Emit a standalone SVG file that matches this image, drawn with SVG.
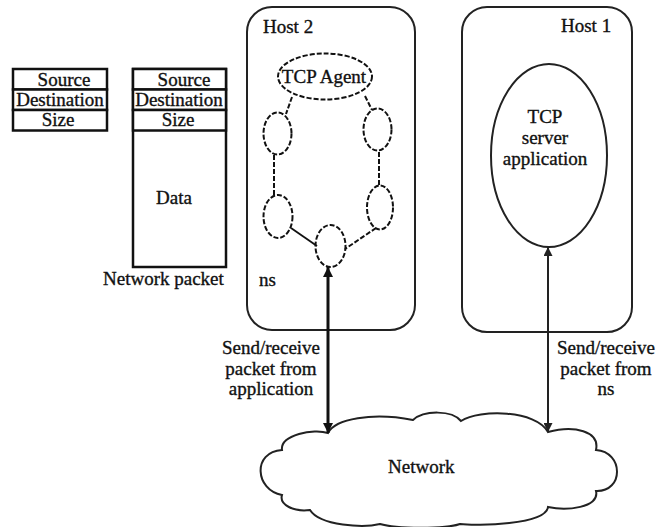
<svg xmlns="http://www.w3.org/2000/svg" width="657" height="527" viewBox="0 0 657 527">
<defs>
<style>
text{font-family:"Liberation Serif","Times New Roman",serif;font-size:19px;fill:#111;stroke:#111;stroke-width:0.35}
.mid{text-anchor:middle}
.box{fill:#fff;stroke:#111;stroke-width:2.5}
.host{fill:none;stroke:#222;stroke-width:2}
.dash{fill:none;stroke:#111;stroke-width:2;stroke-dasharray:5 2}
.link{fill:none;stroke:#111;stroke-width:2;stroke-dasharray:5 2}
</style>
<marker id="ah" viewBox="0 0 10 10" refX="10" refY="5" markerWidth="10" markerHeight="10" markerUnits="userSpaceOnUse" orient="auto-start-reverse">
<path d="M0,0 L10,5 L0,10 Z" fill="#111"/>
</marker>
<marker id="ah2" viewBox="0 0 10 10" refX="10" refY="5" markerWidth="9" markerHeight="9" markerUnits="userSpaceOnUse" orient="auto-start-reverse">
<path d="M0,0 L10,5 L0,10 Z" fill="#222"/>
</marker>
</defs>
<rect width="657" height="527" fill="#fff"/>

<g id="header-table">
<rect class="box" x="13" y="69" width="94" height="20.5"/>
<rect class="box" x="13" y="89.5" width="94" height="20.5"/>
<rect class="box" x="13" y="110" width="94" height="20.5"/>
<text class="mid" x="64" y="86">Source</text>
<text class="mid" x="60" y="106">Destination</text>
<text class="mid" x="58" y="126">Size</text>
</g>

<g id="network-packet">
<rect class="box" x="133" y="69" width="93" height="198"/>
<rect class="box" x="133" y="69" width="93" height="20.5"/>
<rect class="box" x="133" y="89.5" width="93" height="20.5"/>
<rect class="box" x="133" y="110" width="93" height="20.5"/>
<text class="mid" x="184" y="86">Source</text>
<text class="mid" x="179" y="106">Destination</text>
<text class="mid" x="178" y="126">Size</text>
<text class="mid" x="174" y="204">Data</text>
<text x="103" y="285">Network packet</text>
</g>

<g id="host2">
<rect class="host" x="247" y="7" width="168" height="323" rx="25" ry="25"/>
<text x="263" y="33">Host 2</text>
<text x="259" y="286">ns</text>
</g>

<g id="tcp-agent">
<ellipse class="dash" cx="325" cy="76.5" rx="47" ry="23"/>
<text class="mid" x="324" y="83">TCP Agent</text>
</g>
<g id="node-left-upper"><ellipse class="dash" cx="277.5" cy="133.5" rx="14" ry="21"/></g>
<g id="node-right-upper"><ellipse class="dash" cx="377.5" cy="129.5" rx="14" ry="21"/></g>
<g id="node-left-lower"><ellipse class="dash" cx="278" cy="216.5" rx="14.5" ry="21.5"/></g>
<g id="node-right-lower"><ellipse class="dash" cx="380" cy="207.5" rx="13" ry="22"/></g>
<g id="node-bottom"><ellipse class="dash" cx="330.5" cy="246" rx="15" ry="21"/></g>

<g id="host1">
<rect class="host" x="462" y="7" width="170" height="325" rx="25" ry="25"/>
<text x="561" y="32">Host 1</text>
</g>
<g id="tcp-server">
<ellipse class="host" cx="549" cy="155.5" rx="58" ry="91.5"/>
<text class="mid" x="545" y="123">TCP</text>
<text class="mid" x="545" y="144">server</text>
<text class="mid" x="545" y="165">application</text>
</g>

<g id="network">
<path class="host" d="M328,433 C335,419 372,412 413,420 C424,410 452,410 461,421 C480,409 536,410 548,432 C574,425 600,431 596,450 C624,452 624,492 596,491 C600,508 566,511 548,507 C546,525 476,526 460,524 C446,529 396,529 380,524 C364,528 320,526 310,510 C294,512 279,505 282,495 C255,490 252,452 282,450 C280,435 314,428 328,433 Z"/>
<text x="388" y="473">Network</text>
</g>

<g id="connectors">
<line class="link" x1="292" y1="97" x2="286" y2="114"/>
<line class="link" x1="365" y1="96" x2="372" y2="110"/>
<line class="link" x1="274" y1="155" x2="274" y2="195"/>
<line class="link" x1="379" y1="152" x2="379" y2="185"/>
<line stroke="#111" stroke-width="1.8" x1="291" y1="228" x2="317" y2="246"/>
<line class="link" x1="376" y1="228" x2="345" y2="249"/>
<line stroke="#111" stroke-width="3" x1="328" y1="267" x2="328" y2="433" marker-start="url(#ah)" marker-end="url(#ah)"/>
<line stroke="#222" stroke-width="2" x1="548" y1="247" x2="548" y2="432" marker-start="url(#ah2)" marker-end="url(#ah2)"/>
</g>

<g id="labels">
<text class="mid" x="271" y="354">Send/receive</text>
<text class="mid" x="271" y="375">packet from</text>
<text class="mid" x="271" y="395">application</text>
<text class="mid" x="606" y="354">Send/receive</text>
<text class="mid" x="606" y="375">packet from</text>
<text class="mid" x="606" y="395">ns</text>
</g>
</svg>
